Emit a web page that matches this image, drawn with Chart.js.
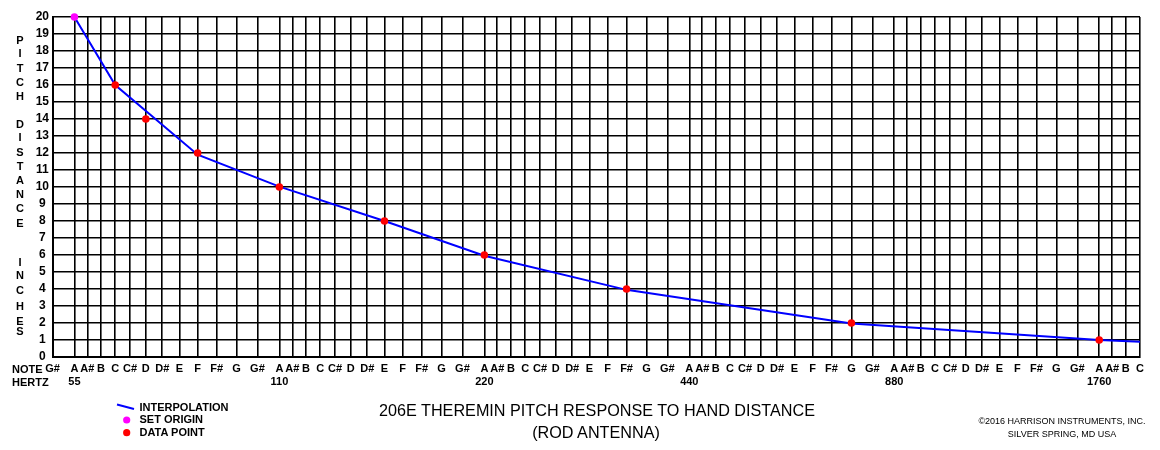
<!DOCTYPE html>
<html>
<head>
<meta charset="utf-8">
<script src="https://cdn.jsdelivr.net/npm/chart.js@4.4.1/dist/chart.umd.min.js"></script>
<style>
  html, body { margin: 0; padding: 0; background: #fff; }
  #wrap { position: relative; width: 1160px; height: 450px; overflow: hidden; background: #fff;
          font-family: "Liberation Sans", Arial, sans-serif; color: #000; }
  #c { position: absolute; left: 0; top: 0; }
  .t { position: absolute; white-space: nowrap; line-height: 1; }
</style>
</head>
<body>
<div id="wrap">
  <canvas id="c" width="1160" height="450"></canvas>
</div>
<script>
// ---------------- data ----------------
const BASE_HZ = 55;                       // A at the first "55" label
const noteNames = ["A","A#","B","C","C#","D","D#","E","F","F#","G","G#"];
const firstSemitone = -1;                 // G# below A55 (left edge)
const lastSemitone = 63;                  // C above A1760 (right edge)
const hertzLabels = ["55","110","220","440","880","1760"];

const yTicks = { min: 0, max: 20, step: 1 };

const originHz = [55];
const originInches = [20];

const pointHz = [65.41, 73.42, 87.31, 110, 164.81, 220, 369.99, 783.99, 1760];
const pointInches = [16, 14, 12, 10, 8, 6, 4, 2, 1];

const curveHz = [55, 65.41, 87.31, 110, 164.81, 220, 369.99, 783.99, 1760, 2093];
const curveInches = [20, 16, 11.9, 10.02, 8.0, 5.96, 3.95, 1.97, 1.0, 0.9];

const yTitleLines = [["P",40],["I",53],["T",68],["C",82],["H",96],
  ["D",124],["I",137],["S",152],["T",166],["A",180],["N",194],["C",208],["E",223],
  ["I",262],["N",275],["C",290],["H",306],["E",321],["S",331]];

// ---------------- note axis ----------------
// Axis of the original: octaves of equal width, notes inside an octave spaced
// nearly linearly in frequency (warp exponent read from the grid spacing).
const WARP = 0.83;
function octavePos(hz) {
  const r = Math.log2(hz / BASE_HZ);
  const oct = Math.floor(r + 1e-9);
  const within = hz / (BASE_HZ * Math.pow(2, oct));
  return oct + (Math.pow(within, WARP) - 1) / (Math.pow(2, WARP) - 1);
}
const semitones = [];
for (let n = firstSemitone; n <= lastSemitone; n++) semitones.push(n);
const tickHz = semitones.map(n => BASE_HZ * Math.pow(2, n / 12));
const tickLabels = semitones.map(n => {
  const name = noteNames[((n % 12) + 12) % 12];
  if (n >= 0 && n % 12 === 0) return [name, hertzLabels[n / 12]];
  return [name];
});

class NoteScale extends Chart.Scale {
  determineDataLimits() {
    this.min = this.options.min;
    this.max = this.options.max;
  }
  buildTicks() {
    return tickHz.map(v => ({ value: v }));
  }
  configure() {
    super.configure();
    this._p0 = octavePos(this.min);
    this._p1 = octavePos(this.max);
  }
  getPixelForValue(v) {
    return this.getPixelForDecimal((octavePos(v) - this._p0) / (this._p1 - this._p0));
  }
  getValueForPixel() { return null; }
  getLabelForValue(v) { return String(v); }
}
NoteScale.id = 'note';
NoteScale.defaults = {};
Chart.register(NoteScale);

const toXY = (xs, ys) => xs.map((x, i) => ({ x: x, y: ys[i] }));

const FONT = "'Liberation Sans', Arial, sans-serif";

new Chart(document.getElementById('c'), {
  type: 'line',
  data: {
    datasets: [
      { label: 'SET ORIGIN', data: toXY(originHz, originInches), showLine: false, clip: false,
        pointRadius: 3.8, pointBackgroundColor: '#ff00ff', pointBorderWidth: 0, order: 0 },
      { label: 'DATA POINT', data: toXY(pointHz, pointInches), showLine: false, clip: false,
        pointRadius: 3.8, pointBackgroundColor: '#ff0000', pointBorderWidth: 0, order: 1 },
      { label: 'INTERPOLATION', data: toXY(curveHz, curveInches), borderColor: '#0000ff',
        borderWidth: 2, pointRadius: 0, tension: 0, fill: false, order: 2 }
    ]
  },
  options: {
    responsive: false,
    devicePixelRatio: 1,
    animation: false,
    events: [],
    layout: { padding: { left: 0, top: 17, right: 20, bottom: 0 } },
    plugins: { legend: { display: false }, tooltip: { enabled: false }, title: { display: false } },
    scales: {
      x: {
        type: 'note',
        position: 'bottom',
        min: tickHz[0],
        max: tickHz[tickHz.length - 1],
        grid: { color: '#000', lineWidth: 1.6, drawTicks: false },
        border: { color: '#000', width: 2 },
        ticks: {
          autoSkip: false, maxRotation: 0, minRotation: 0, padding: 5.4,
          color: '#000', font: { family: FONT, size: 11, weight: 'bold', lineHeight: 1.2 },
          callback: (v, i) => tickLabels[i]
        },
        afterFit: s => { s.height = 93; s.paddingLeft = 0; s.paddingRight = 0; }
      },
      y: {
        type: 'linear',
        min: yTicks.min, max: yTicks.max,
        grid: { color: '#000', lineWidth: 1.6, drawTicks: false },
        border: { color: '#000', width: 2 },
        ticks: {
          stepSize: yTicks.step, autoSkip: false, padding: 3.5, crossAlign: 'center',
          color: '#000', font: { family: FONT, size: 12, weight: 'bold' }
        },
        afterFit: s => { s.width = 52.5; }
      }
    }
  }
});

// ---------------- static texts ----------------
const wrap = document.getElementById('wrap');
function addText(txt, left, baseline, fs, bold, extra) {
  const d = document.createElement('div');
  d.className = 't';
  d.textContent = txt;
  d.style.fontSize = fs + 'px';
  d.style.fontWeight = bold ? 'bold' : 'normal';
  d.style.top = (baseline - 0.8465 * fs) + 'px';
  if (extra && extra.center !== undefined) {
    d.style.left = (extra.center - 300) + 'px';
    d.style.width = '600px';
    d.style.textAlign = 'center';
  } else {
    d.style.left = left + 'px';
  }
  wrap.appendChild(d);
  return d;
}
yTitleLines.forEach(([ch, cy]) => addText(ch, 0, cy + 3.9, 11, true, { center: 20 }));
addText('NOTE', 12, 373, 11, true);
addText('HERTZ', 12, 386, 11, true);

addText('206E THEREMIN PITCH RESPONSE TO HAND DISTANCE', 0, 415.5, 16.2, false, { center: 597 });
addText('(ROD ANTENNA)', 0, 438, 16.2, false, { center: 596 });

addText('INTERPOLATION', 139.5, 411, 11, true);
addText('SET ORIGIN', 139.5, 423.7, 11, true);
addText('DATA POINT', 139.5, 436.3, 11, true);

const svgNS = 'http://www.w3.org/2000/svg';
const svg = document.createElementNS(svgNS, 'svg');
svg.setAttribute('width', '1160'); svg.setAttribute('height', '450');
svg.style.position = 'absolute'; svg.style.left = '0'; svg.style.top = '0';
svg.innerHTML =
  '<line x1="117" y1="404.5" x2="134" y2="409" stroke="#0000ff" stroke-width="2"/>' +
  '<circle cx="126.7" cy="420" r="3.6" fill="#ff00ff"/>' +
  '<circle cx="126.7" cy="432.7" r="3.6" fill="#ff0000"/>';
wrap.appendChild(svg);

addText('\u00A92016  HARRISON INSTRUMENTS, INC.', 0, 425, 9, false, { center: 1062 });
addText('SILVER SPRING, MD USA', 0, 437.3, 9, false, { center: 1062 });
</script>
</body>
</html>
